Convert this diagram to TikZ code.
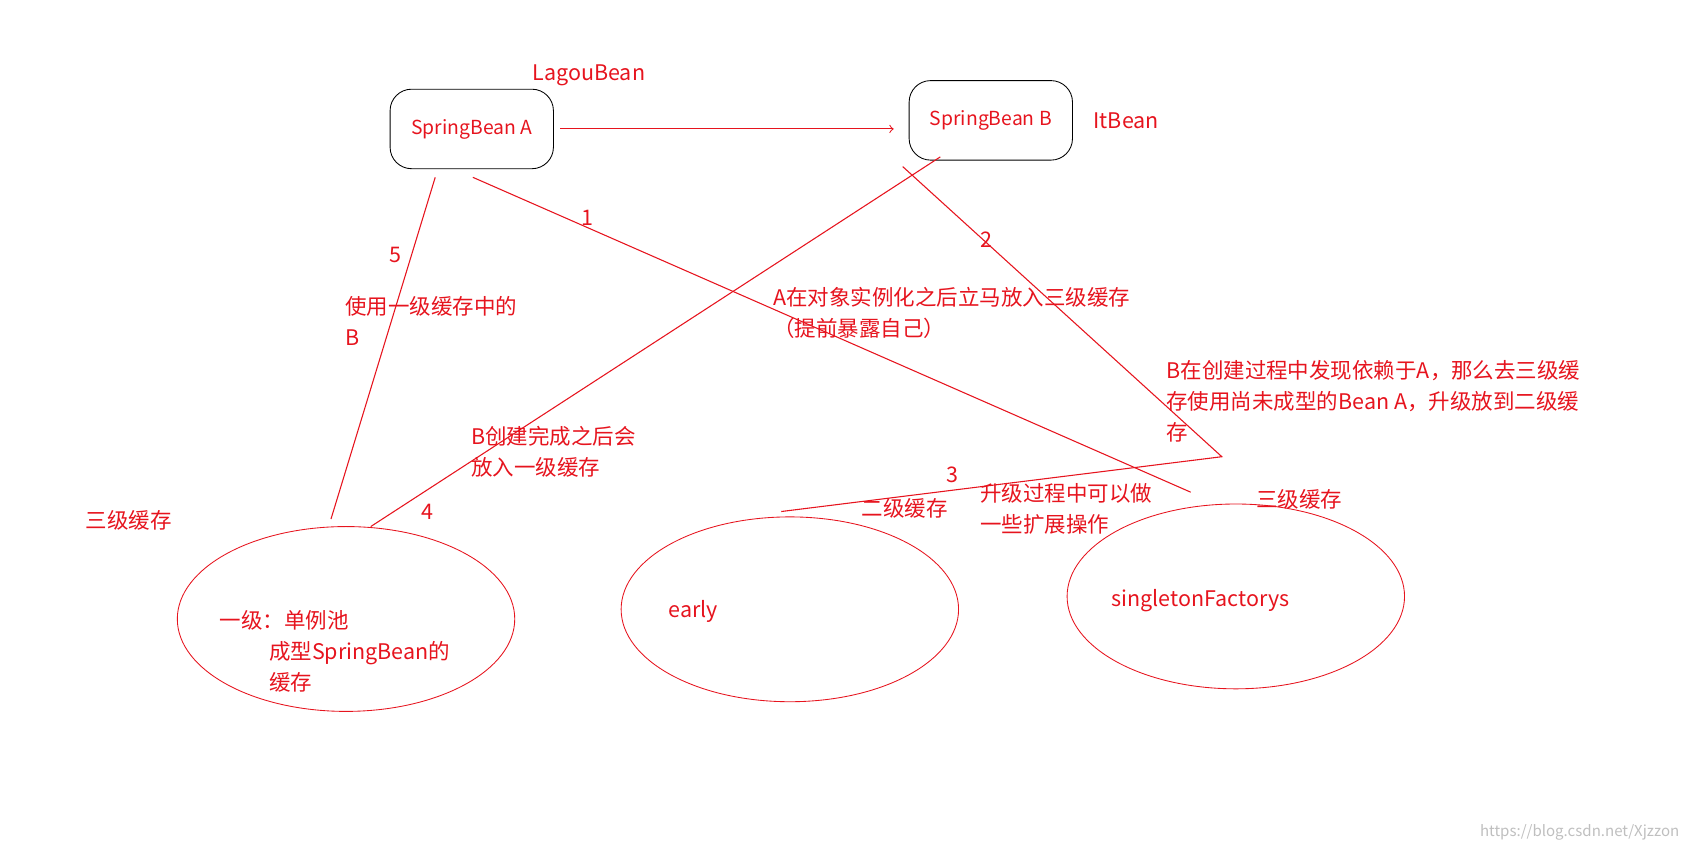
\documentclass[tikz,border=0pt]{standalone}
\usepackage{fontspec}
\setmainfont{Noto Sans CJK SC}
\usetikzlibrary{positioning}
\usetikzlibrary{shapes.geometric}
\definecolor{penred}{RGB}{230,20,30}
\begin{document}
\begin{tikzpicture}[x=0.5pt,y=-0.5pt,
                    bean/.style={rectangle, draw=black, rounded corners=10pt, text=penred, minimum width=76pt, minimum height=37pt, font=\fontsize{9}{11}\selectfont},
                    cache/.style={ellipse, draw=penred, minimum width=157pt, minimum height=86pt},
                    note/.style={text=penred, font=\fontsize{10}{14.5}\selectfont, inner sep=0pt},
                    link/.style={draw=penred, line width=0.5pt},
                   ]
  \useasboundingbox (0,0) rectangle (1568,792);
  % Nodes
  \node[bean]   (bean_a)   at (439,120) {SpringBean A};
  \node[bean]   (bean_b)   at (922,112) {SpringBean B};
  \node[cache]  (level_1)  at (322,576) {};
  \node[cache]  (level_2)  at (735,567) {};
  \node[cache]  (level_3)  at (1150,555) {};

  \node[note]   (lagou)    at (548,70)  {LagouBean};
  \node[note]   (itbean)   at (1048,112) {ItBean};
  \node[note]   (three_l)  at (120,484) {三级缓存};
  \node[note, anchor=west] (pool) at (204,577) {一级：单例池};
  \node[note, anchor=north west, align=left] (pool_txt) at (250,596) {成型SpringBean的\\缓存};
  \node[note]   (early)    at (645,569) {early};
  \node[note]   (factory)  at (1117,559) {singletonFactorys};
  \node[note]   (two_c)    at (842,473) {二级缓存};
  \node[note]   (three_c)  at (1209,465) {三级缓存};
  \node[note, anchor=north west, align=left] (ext)   at (912,449) {升级过程中可以做\\一些扩展操作};
  \node[note, anchor=north west, align=left] (use_b) at (321,275) {使用一级缓存中的\\B};
  \node[note, anchor=north west, align=left] (expose) at (719,267) {A在对象实例化之后立马放入三级缓存\\（提前暴露自己）};
  \node[note, anchor=north west, align=left] (depend) at (1085,335) {B在创建过程中发现依赖于A，那么去三级缓\\存使用尚未成型的Bean A，升级放到二级缓\\存};
  \node[note, anchor=north west, align=left] (done)  at (438,396) {B创建完成之后会\\放入一级缓存};

  \node[note]   (n1) at (547,203) {1};
  \node[note]   (n2) at (918,223) {2};
  \node[note]   (n3) at (886,442) {3};
  \node[note]   (n4) at (398,476) {4};
  \node[note]   (n5) at (368,237) {5};

  \node[text=gray!50, font=\fontsize{7}{8}\selectfont] (mark) at (1470,775) {https://blog.csdn.net/Xjzzon};

  % Coordinates
  \coordinate (a_out)   at (440,165);
  \coordinate (a_in)    at (405,165);
  \coordinate (b_out)   at (840,155);
  \coordinate (b_down)  at (875,146);
  \coordinate (bend)    at (1137,425);
  \coordinate (to_3)    at (1108,458);
  \coordinate (to_2)    at (727,476);
  \coordinate (to_1)    at (345,490);
  \coordinate (from_1)  at (308,483);

  % Lines
  \draw[link, ->] ([xshift=3pt]bean_a.east) -- ([xshift=-7pt]bean_b.west |- bean_a.east);
  \draw[link] (a_out) -- (to_3);
  \draw[link] (b_out) -- (bend) -- (to_2);
  \draw[link] (b_down) -- (to_1);
  \draw[link] (from_1) -- (a_in);
\end{tikzpicture}
\end{document}
